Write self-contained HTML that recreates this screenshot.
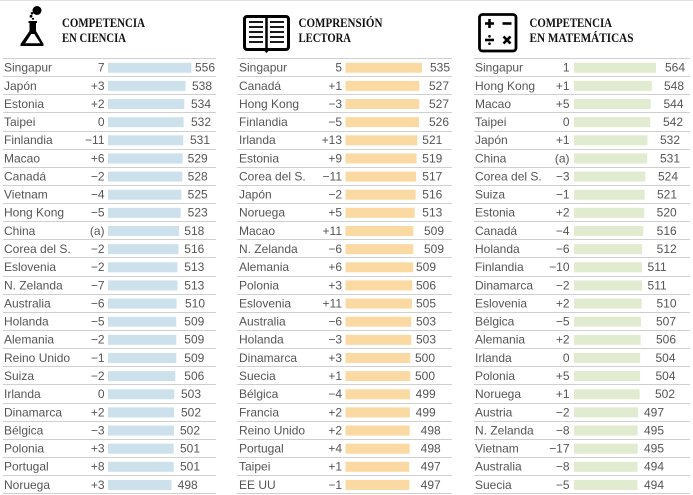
<!DOCTYPE html>
<html>
<head>
<meta charset="utf-8">
<style>
html,body{margin:0;padding:0;background:#fff;}
svg{display:block;}
text{font-family:"Liberation Sans",sans-serif;font-size:12px;fill:#555;}
.r{text-anchor:end;}
.t{font-family:"Liberation Serif",serif;font-weight:bold;font-size:12.5px;fill:#111;}
.b1{fill:#cde1ec;}
.b2{fill:#fbd9a2;}
.b3{fill:#e1ebcf;}
</style>
</head>
<body>
<svg width="693" height="495" viewBox="0 0 693 495" xmlns="http://www.w3.org/2000/svg">
<rect x="0" y="0" width="693" height="495" fill="#fff"/>
<line x1="0" y1="0.5" x2="693" y2="0.5" stroke="#e2e2e2" stroke-width="1"/>

<!-- Flask icon -->
<g fill="#000">
<circle cx="37" cy="10.5" r="4.5"/>
<circle cx="32" cy="13.3" r="1.3"/>
<circle cx="31" cy="16.3" r="1.4"/>
<circle cx="33" cy="18.8" r="1.1"/>
<rect x="28.5" y="21" width="8.5" height="2"/>
<rect x="29.5" y="21" width="6.5" height="11"/>
<polygon points="29.5,31 36,31 43.5,44 43.5,46 20.5,46 20.5,44"/>
</g>
<polygon points="31.2,34 34.3,34 40.3,43.3 25.2,43.3" fill="#fff"/>

<!-- Book icon -->
<g stroke="#000" fill="none">
<rect x="244.5" y="16.5" width="44" height="33" rx="2.5" stroke-width="3"/>
<line x1="266.5" y1="16" x2="266.5" y2="50" stroke-width="2.5"/>
<g stroke-width="1.8">
<line x1="249" y1="22" x2="263" y2="22"/>
<line x1="249" y1="27" x2="263" y2="27"/>
<line x1="249" y1="32" x2="263" y2="32"/>
<line x1="249" y1="37" x2="263" y2="37"/>
<line x1="249" y1="42" x2="263" y2="42"/>
<line x1="270" y1="22" x2="284" y2="22"/>
<line x1="270" y1="27" x2="284" y2="27"/>
<line x1="270" y1="32" x2="284" y2="32"/>
<line x1="270" y1="37" x2="284" y2="37"/>
<line x1="270" y1="42" x2="284" y2="42"/>
</g>
</g>
<polygon points="263,49.5 270,49.5 266.5,53" fill="#000"/>

<!-- Calculator icon -->
<g stroke="#000" fill="none" stroke-width="2.6">
<rect x="479.5" y="14.5" width="36.5" height="36.5" rx="3" stroke-width="2.8"/>
<line x1="485" y1="23.5" x2="494" y2="23.5"/>
<line x1="489.5" y1="19" x2="489.5" y2="28"/>
<line x1="502.5" y1="23.5" x2="511.5" y2="23.5"/>
<line x1="485" y1="40" x2="494" y2="40"/>
<line x1="503.5" y1="36.5" x2="510.5" y2="43.5"/>
<line x1="510.5" y1="36.5" x2="503.5" y2="43.5"/>
</g>
<circle cx="489.5" cy="36.3" r="1.3" fill="#000"/>
<circle cx="489.5" cy="43.7" r="1.3" fill="#000"/>

<!-- Titles -->
<text class="t" x="62" y="27" textLength="83" lengthAdjust="spacingAndGlyphs">COMPETENCIA</text>
<text class="t" x="62" y="42" textLength="64" lengthAdjust="spacingAndGlyphs">EN CIENCIA</text>
<text class="t" x="298.5" y="27" textLength="84" lengthAdjust="spacingAndGlyphs">COMPRENSIÓN</text>
<text class="t" x="298.5" y="42" textLength="52.5" lengthAdjust="spacingAndGlyphs">LECTORA</text>
<text class="t" x="529.5" y="27" textLength="82.5" lengthAdjust="spacingAndGlyphs">COMPETENCIA</text>
<text class="t" x="529.5" y="42" textLength="104" lengthAdjust="spacingAndGlyphs">EN MATEMÁTICAS</text>

<!-- Row lines -->
<path stroke="#cfcfcf" stroke-width="1" fill="none" d="
M3 58.5H216M237 58.5H452M474 58.5H690
M3 76.5H216M237 76.5H452M474 76.5H690
M3 94.5H216M237 94.5H452M474 94.5H690
M3 112.5H216M237 112.5H452M474 112.5H690
M3 131.5H216M237 131.5H452M474 131.5H690
M3 149.5H216M237 149.5H452M474 149.5H690
M3 167.5H216M237 167.5H452M474 167.5H690
M3 185.5H216M237 185.5H452M474 185.5H690
M3 203.5H216M237 203.5H452M474 203.5H690
M3 221.5H216M237 221.5H452M474 221.5H690
M3 239.5H216M237 239.5H452M474 239.5H690
M3 257.5H216M237 257.5H452M474 257.5H690
M3 276.5H216M237 276.5H452M474 276.5H690
M3 294.5H216M237 294.5H452M474 294.5H690
M3 312.5H216M237 312.5H452M474 312.5H690
M3 330.5H216M237 330.5H452M474 330.5H690
M3 348.5H216M237 348.5H452M474 348.5H690
M3 366.5H216M237 366.5H452M474 366.5H690
M3 384.5H216M237 384.5H452M474 384.5H690
M3 403.5H216M237 403.5H452M474 403.5H690
M3 421.5H216M237 421.5H452M474 421.5H690
M3 439.5H216M237 439.5H452M474 439.5H690
M3 457.5H216M237 457.5H452M474 457.5H690
M3 475.5H216M237 475.5H452M474 475.5H690
M3 493.5H216M237 493.5H452M474 493.5H690"/>

<!-- Rows -->
<g transform="translate(0,58.44)">
<text x="4" y="13.2">Singapur</text><text x="104.5" y="13.2" class="r">7</text><rect x="108" y="4.3" width="83.3" height="10" class="b1"/><text x="215" y="13.2" class="r">556</text>
<text x="239" y="13.2">Singapur</text><text x="342" y="13.2" class="r">5</text><rect x="345.5" y="4.3" width="76.5" height="10" class="b2"/><text x="450" y="13.2" class="r">535</text>
<text x="475" y="13.2">Singapur</text><text x="569.5" y="13.2" class="r">1</text><rect x="574" y="4.3" width="82" height="10" class="b3"/><text x="685" y="13.2" class="r">564</text>
</g>
<g transform="translate(0,76.58)">
<text x="4" y="13.2">Japón</text><text x="104.5" y="13.2" class="r">+3</text><rect x="108" y="4.3" width="77.5" height="10" class="b1"/><text x="212" y="13.2" class="r">538</text>
<text x="239" y="13.2">Canadá</text><text x="342" y="13.2" class="r">+1</text><rect x="345.5" y="4.3" width="73.8" height="10" class="b2"/><text x="449" y="13.2" class="r">527</text>
<text x="475" y="13.2">Hong Kong</text><text x="569.5" y="13.2" class="r">+1</text><rect x="574" y="4.3" width="77.8" height="10" class="b3"/><text x="684" y="13.2" class="r">548</text>
</g>
<g transform="translate(0,94.72)">
<text x="4" y="13.2">Estonia</text><text x="104.5" y="13.2" class="r">+2</text><rect x="108" y="4.3" width="76.3" height="10" class="b1"/><text x="211" y="13.2" class="r">534</text>
<text x="239" y="13.2">Hong Kong</text><text x="342" y="13.2" class="r">−3</text><rect x="345.5" y="4.3" width="73.8" height="10" class="b2"/><text x="449" y="13.2" class="r">527</text>
<text x="475" y="13.2">Macao</text><text x="569.5" y="13.2" class="r">+5</text><rect x="574" y="4.3" width="76.7" height="10" class="b3"/><text x="683.5" y="13.2" class="r">544</text>
</g>
<g transform="translate(0,112.86)">
<text x="4" y="13.2">Taipei</text><text x="104.5" y="13.2" class="r">0</text><rect x="108" y="4.3" width="75.6" height="10" class="b1"/><text x="211" y="13.2" class="r">532</text>
<text x="239" y="13.2">Finlandia</text><text x="342" y="13.2" class="r">−5</text><rect x="345.5" y="4.3" width="73.5" height="10" class="b2"/><text x="449" y="13.2" class="r">526</text>
<text x="475" y="13.2">Taipei</text><text x="569.5" y="13.2" class="r">0</text><rect x="574" y="4.3" width="76.2" height="10" class="b3"/><text x="683" y="13.2" class="r">542</text>
</g>
<g transform="translate(0,131.0)">
<text x="4" y="13.2">Finlandia</text><text x="104.5" y="13.2" class="r">−11</text><rect x="108" y="4.3" width="75.3" height="10" class="b1"/><text x="210" y="13.2" class="r">531</text>
<text x="239" y="13.2">Irlanda</text><text x="342" y="13.2" class="r">+13</text><rect x="345.5" y="4.3" width="71.8" height="10" class="b2"/><text x="442.3" y="13.2" class="r">521</text>
<text x="475" y="13.2">Japón</text><text x="569.5" y="13.2" class="r">+1</text><rect x="574" y="4.3" width="73.5" height="10" class="b3"/><text x="680" y="13.2" class="r">532</text>
</g>
<g transform="translate(0,149.14)">
<text x="4" y="13.2">Macao</text><text x="104.5" y="13.2" class="r">+6</text><rect x="108" y="4.3" width="74.7" height="10" class="b1"/><text x="207.7" y="13.2" class="r">529</text>
<text x="239" y="13.2">Estonia</text><text x="342" y="13.2" class="r">+9</text><rect x="345.5" y="4.3" width="71.1" height="10" class="b2"/><text x="442.3" y="13.2" class="r">519</text>
<text x="475" y="13.2">China</text><text x="569.5" y="13.2" class="r">(a)</text><rect x="574" y="4.3" width="73.3" height="10" class="b3"/><text x="680" y="13.2" class="r">531</text>
</g>
<g transform="translate(0,167.28)">
<text x="4" y="13.2">Canadá</text><text x="104.5" y="13.2" class="r">−2</text><rect x="108" y="4.3" width="74.3" height="10" class="b1"/><text x="207.7" y="13.2" class="r">528</text>
<text x="239" y="13.2">Corea del S.</text><text x="342" y="13.2" class="r">−11</text><rect x="345.5" y="4.3" width="70.5" height="10" class="b2"/><text x="442.3" y="13.2" class="r">517</text>
<text x="475" y="13.2">Corea del S.</text><text x="569.5" y="13.2" class="r">−3</text><rect x="574" y="4.3" width="71.4" height="10" class="b3"/><text x="678" y="13.2" class="r">524</text>
</g>
<g transform="translate(0,185.42)">
<text x="4" y="13.2">Vietnam</text><text x="104.5" y="13.2" class="r">−4</text><rect x="108" y="4.3" width="73.4" height="10" class="b1"/><text x="207.7" y="13.2" class="r">525</text>
<text x="239" y="13.2">Japón</text><text x="342" y="13.2" class="r">−2</text><rect x="345.5" y="4.3" width="70.1" height="10" class="b2"/><text x="442.3" y="13.2" class="r">516</text>
<text x="475" y="13.2">Suiza</text><text x="569.5" y="13.2" class="r">−1</text><rect x="574" y="4.3" width="70.6" height="10" class="b3"/><text x="677" y="13.2" class="r">521</text>
</g>
<g transform="translate(0,203.56)">
<text x="4" y="13.2">Hong Kong</text><text x="104.5" y="13.2" class="r">−5</text><rect x="108" y="4.3" width="72.7" height="10" class="b1"/><text x="207.7" y="13.2" class="r">523</text>
<text x="239" y="13.2">Noruega</text><text x="342" y="13.2" class="r">+5</text><rect x="345.5" y="4.3" width="69.1" height="10" class="b2"/><text x="442.3" y="13.2" class="r">513</text>
<text x="475" y="13.2">Estonia</text><text x="569.5" y="13.2" class="r">+2</text><rect x="574" y="4.3" width="70.3" height="10" class="b3"/><text x="676.7" y="13.2" class="r">520</text>
</g>
<g transform="translate(0,221.7)">
<text x="4" y="13.2">China</text><text x="104.5" y="13.2" class="r">(a)</text><rect x="108" y="4.3" width="71.1" height="10" class="b1"/><text x="204.3" y="13.2" class="r">518</text>
<text x="239" y="13.2">Macao</text><text x="342" y="13.2" class="r">+11</text><rect x="345.5" y="4.3" width="67.8" height="10" class="b2"/><text x="444" y="13.2" class="r">509</text>
<text x="475" y="13.2">Canadá</text><text x="569.5" y="13.2" class="r">−4</text><rect x="574" y="4.3" width="69.3" height="10" class="b3"/><text x="676.7" y="13.2" class="r">516</text>
</g>
<g transform="translate(0,239.84)">
<text x="4" y="13.2">Corea del S.</text><text x="104.5" y="13.2" class="r">−2</text><rect x="108" y="4.3" width="70.5" height="10" class="b1"/><text x="204.3" y="13.2" class="r">516</text>
<text x="239" y="13.2">N. Zelanda</text><text x="342" y="13.2" class="r">−6</text><rect x="345.5" y="4.3" width="67.8" height="10" class="b2"/><text x="444" y="13.2" class="r">509</text>
<text x="475" y="13.2">Holanda</text><text x="569.5" y="13.2" class="r">−6</text><rect x="574" y="4.3" width="68.2" height="10" class="b3"/><text x="676.7" y="13.2" class="r">512</text>
</g>
<g transform="translate(0,257.98)">
<text x="4" y="13.2">Eslovenia</text><text x="104.5" y="13.2" class="r">−2</text><rect x="108" y="4.3" width="69.5" height="10" class="b1"/><text x="204.3" y="13.2" class="r">513</text>
<text x="239" y="13.2">Alemania</text><text x="342" y="13.2" class="r">+6</text><rect x="345.5" y="4.3" width="67.8" height="10" class="b2"/><text x="436" y="13.2" class="r">509</text>
<text x="475" y="13.2">Finlandia</text><text x="569.5" y="13.2" class="r">−10</text><rect x="574" y="4.3" width="68.0" height="10" class="b3"/><text x="666.7" y="13.2" class="r">511</text>
</g>
<g transform="translate(0,276.12)">
<text x="4" y="13.2">N. Zelanda</text><text x="104.5" y="13.2" class="r">−7</text><rect x="108" y="4.3" width="69.5" height="10" class="b1"/><text x="204.3" y="13.2" class="r">513</text>
<text x="239" y="13.2">Polonia</text><text x="342" y="13.2" class="r">+3</text><rect x="345.5" y="4.3" width="66.8" height="10" class="b2"/><text x="436" y="13.2" class="r">506</text>
<text x="475" y="13.2">Dinamarca</text><text x="569.5" y="13.2" class="r">−2</text><rect x="574" y="4.3" width="68.0" height="10" class="b3"/><text x="666.7" y="13.2" class="r">511</text>
</g>
<g transform="translate(0,294.26)">
<text x="4" y="13.2">Australia</text><text x="104.5" y="13.2" class="r">−6</text><rect x="108" y="4.3" width="68.6" height="10" class="b1"/><text x="205" y="13.2" class="r">510</text>
<text x="239" y="13.2">Eslovenia</text><text x="342" y="13.2" class="r">+11</text><rect x="345.5" y="4.3" width="66.4" height="10" class="b2"/><text x="436" y="13.2" class="r">505</text>
<text x="475" y="13.2">Eslovenia</text><text x="569.5" y="13.2" class="r">+2</text><rect x="574" y="4.3" width="67.7" height="10" class="b3"/><text x="676.5" y="13.2" class="r">510</text>
</g>
<g transform="translate(0,312.4)">
<text x="4" y="13.2">Holanda</text><text x="104.5" y="13.2" class="r">−5</text><rect x="108" y="4.3" width="68.3" height="10" class="b1"/><text x="204.3" y="13.2" class="r">509</text>
<text x="239" y="13.2">Australia</text><text x="342" y="13.2" class="r">−6</text><rect x="345.5" y="4.3" width="65.8" height="10" class="b2"/><text x="436" y="13.2" class="r">503</text>
<text x="475" y="13.2">Bélgica</text><text x="569.5" y="13.2" class="r">−5</text><rect x="574" y="4.3" width="66.9" height="10" class="b3"/><text x="676" y="13.2" class="r">507</text>
</g>
<g transform="translate(0,330.54)">
<text x="4" y="13.2">Alemania</text><text x="104.5" y="13.2" class="r">−2</text><rect x="108" y="4.3" width="68.3" height="10" class="b1"/><text x="204.3" y="13.2" class="r">509</text>
<text x="239" y="13.2">Holanda</text><text x="342" y="13.2" class="r">−3</text><rect x="345.5" y="4.3" width="65.8" height="10" class="b2"/><text x="436" y="13.2" class="r">503</text>
<text x="475" y="13.2">Alemania</text><text x="569.5" y="13.2" class="r">+2</text><rect x="574" y="4.3" width="66.6" height="10" class="b3"/><text x="676" y="13.2" class="r">506</text>
</g>
<g transform="translate(0,348.68)">
<text x="4" y="13.2">Reino Unido</text><text x="104.5" y="13.2" class="r">−1</text><rect x="108" y="4.3" width="68.3" height="10" class="b1"/><text x="204.3" y="13.2" class="r">509</text>
<text x="239" y="13.2">Dinamarca</text><text x="342" y="13.2" class="r">+3</text><rect x="345.5" y="4.3" width="64.8" height="10" class="b2"/><text x="435" y="13.2" class="r">500</text>
<text x="475" y="13.2">Irlanda</text><text x="569.5" y="13.2" class="r">0</text><rect x="574" y="4.3" width="66.1" height="10" class="b3"/><text x="675.5" y="13.2" class="r">504</text>
</g>
<g transform="translate(0,366.82)">
<text x="4" y="13.2">Suiza</text><text x="104.5" y="13.2" class="r">−2</text><rect x="108" y="4.3" width="67.3" height="10" class="b1"/><text x="204.3" y="13.2" class="r">506</text>
<text x="239" y="13.2">Suecia</text><text x="342" y="13.2" class="r">+1</text><rect x="345.5" y="4.3" width="64.8" height="10" class="b2"/><text x="435" y="13.2" class="r">500</text>
<text x="475" y="13.2">Polonia</text><text x="569.5" y="13.2" class="r">+5</text><rect x="574" y="4.3" width="66.1" height="10" class="b3"/><text x="675.5" y="13.2" class="r">504</text>
</g>
<g transform="translate(0,384.96)">
<text x="4" y="13.2">Irlanda</text><text x="104.5" y="13.2" class="r">0</text><rect x="108" y="4.3" width="66.3" height="10" class="b1"/><text x="201" y="13.2" class="r">503</text>
<text x="239" y="13.2">Bélgica</text><text x="342" y="13.2" class="r">−4</text><rect x="345.5" y="4.3" width="64.4" height="10" class="b2"/><text x="435.7" y="13.2" class="r">499</text>
<text x="475" y="13.2">Noruega</text><text x="569.5" y="13.2" class="r">+1</text><rect x="574" y="4.3" width="65.6" height="10" class="b3"/><text x="675" y="13.2" class="r">502</text>
</g>
<g transform="translate(0,403.1)">
<text x="4" y="13.2">Dinamarca</text><text x="104.5" y="13.2" class="r">+2</text><rect x="108" y="4.3" width="66.0" height="10" class="b1"/><text x="201" y="13.2" class="r">502</text>
<text x="239" y="13.2">Francia</text><text x="342" y="13.2" class="r">+2</text><rect x="345.5" y="4.3" width="64.4" height="10" class="b2"/><text x="435.7" y="13.2" class="r">499</text>
<text x="475" y="13.2">Austria</text><text x="569.5" y="13.2" class="r">−2</text><rect x="574" y="4.3" width="64.2" height="10" class="b3"/><text x="664" y="13.2" class="r">497</text>
</g>
<g transform="translate(0,421.24)">
<text x="4" y="13.2">Bélgica</text><text x="104.5" y="13.2" class="r">−3</text><rect x="108" y="4.3" width="66.0" height="10" class="b1"/><text x="200" y="13.2" class="r">502</text>
<text x="239" y="13.2">Reino Unido</text><text x="342" y="13.2" class="r">+2</text><rect x="345.5" y="4.3" width="64.1" height="10" class="b2"/><text x="440.7" y="13.2" class="r">498</text>
<text x="475" y="13.2">N. Zelanda</text><text x="569.5" y="13.2" class="r">−8</text><rect x="574" y="4.3" width="63.7" height="10" class="b3"/><text x="664" y="13.2" class="r">495</text>
</g>
<g transform="translate(0,439.38)">
<text x="4" y="13.2">Polonia</text><text x="104.5" y="13.2" class="r">+3</text><rect x="108" y="4.3" width="65.7" height="10" class="b1"/><text x="200" y="13.2" class="r">501</text>
<text x="239" y="13.2">Portugal</text><text x="342" y="13.2" class="r">+4</text><rect x="345.5" y="4.3" width="64.1" height="10" class="b2"/><text x="440.7" y="13.2" class="r">498</text>
<text x="475" y="13.2">Vietnam</text><text x="569.5" y="13.2" class="r">−17</text><rect x="574" y="4.3" width="63.7" height="10" class="b3"/><text x="664" y="13.2" class="r">495</text>
</g>
<g transform="translate(0,457.52)">
<text x="4" y="13.2">Portugal</text><text x="104.5" y="13.2" class="r">+8</text><rect x="108" y="4.3" width="65.7" height="10" class="b1"/><text x="200" y="13.2" class="r">501</text>
<text x="239" y="13.2">Taipei</text><text x="342" y="13.2" class="r">+1</text><rect x="345.5" y="4.3" width="63.8" height="10" class="b2"/><text x="440.7" y="13.2" class="r">497</text>
<text x="475" y="13.2">Australia</text><text x="569.5" y="13.2" class="r">−8</text><rect x="574" y="4.3" width="63.5" height="10" class="b3"/><text x="664" y="13.2" class="r">494</text>
</g>
<g transform="translate(0,475.66)">
<text x="4" y="13.2">Noruega</text><text x="104.5" y="13.2" class="r">+3</text><rect x="108" y="4.3" width="63.5" height="10" class="b1"/><text x="197.7" y="13.2" class="r">498</text>
<text x="239" y="13.2">EE UU</text><text x="342" y="13.2" class="r">−1</text><rect x="345.5" y="4.3" width="63.8" height="10" class="b2"/><text x="440.7" y="13.2" class="r">497</text>
<text x="475" y="13.2">Suecia</text><text x="569.5" y="13.2" class="r">−5</text><rect x="574" y="4.3" width="63.5" height="10" class="b3"/><text x="664" y="13.2" class="r">494</text>
</g>
</svg>
</body>
</html>
